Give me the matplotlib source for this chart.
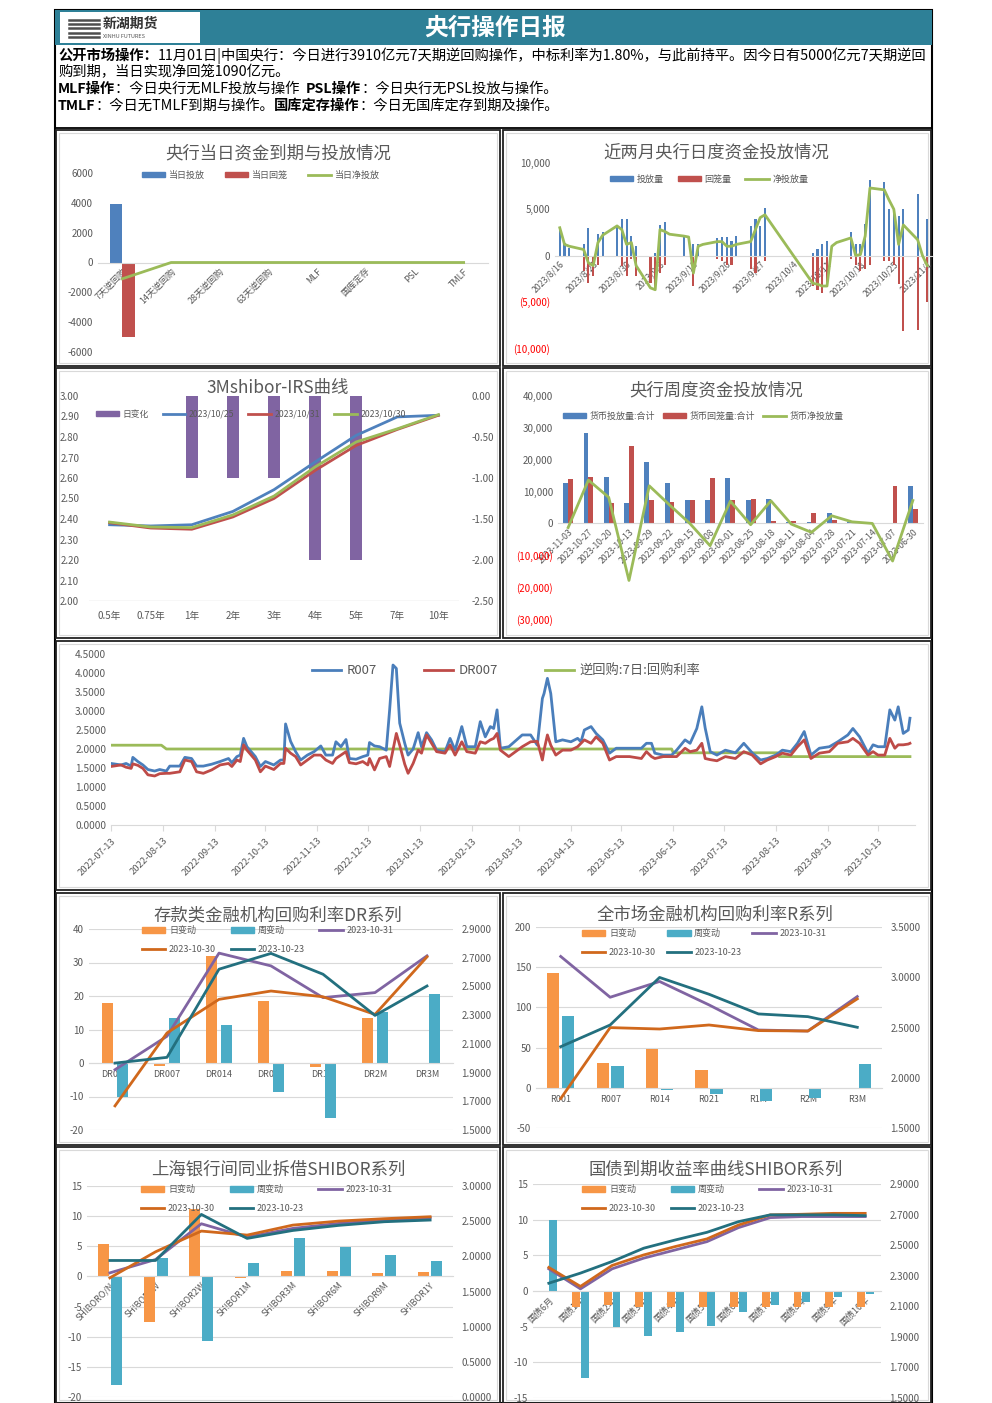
import matplotlib
matplotlib.use('Agg')
import matplotlib.pyplot as plt
from matplotlib.patches import Rectangle, Patch
from matplotlib.lines import Line2D
import numpy as np
import pandas as pd

plt.rcParams['font.family'] = ['Noto Sans CJK SC', 'DejaVu Sans']
plt.rcParams['axes.unicode_minus'] = False

W, H = 992, 1403
BLUE = '#4f81bd'
RED = '#c0504d'
GREEN = '#9bbb59'
PURPLE = '#8064a2'
ORANGE = '#f79646'
TEAL = '#4bacc6'
DKORANGE = '#d0681c'
DKTEAL = '#23707f'
GRAY = '#595959'
GRID = '#d9d9d9'

# ---------------- header text ----------------
header_lines = [
    [('公开市场操作：', True), ('11月01日|中国央行：今日进行3910亿元7天期逆回购操作，中标利率为1.80%，与此前持平。因今日有5000亿元7天期逆回', False)],
    [('购到期，当日实现净回笼1090亿元。', False)],
    [('MLF操作', True), ('：今日央行无MLF投放与操作  ', False), ('PSL操作', True), ('：今日央行无PSL投放与操作。', False)],
    [('TMLF', True), ('：今日无TMLF到期与操作。', False), ('国库定存操作', True), ('：今日无国库定存到期及操作。', False)],
]

# ---------------- panel 1 ----------------
cats1 = ['7天逆回购', '14天逆回购', '28天逆回购', '63天逆回购', 'MLF', '国库定存', 'PSL', 'TMLF']
put1 = [3910, 0, 0, 0, 0, 0, 0, 0]
ret1 = [-5000, 0, 0, 0, 0, 0, 0, 0]
net1 = [-1090, 0, 0, 0, 0, 0, 0, 0]

# ---------------- panel 2 ----------------
dates2 = ['2023-08-16', '2023-08-17', '2023-08-18', '2023-08-21', '2023-08-22', '2023-08-23',
          '2023-08-24', '2023-08-25', '2023-08-28', '2023-08-29', '2023-08-30', '2023-08-31',
          '2023-09-01', '2023-09-04', '2023-09-05', '2023-09-06', '2023-09-07', '2023-09-08',
          '2023-09-11', '2023-09-12', '2023-09-13', '2023-09-14', '2023-09-15', '2023-09-18',
          '2023-09-19', '2023-09-20', '2023-09-21', '2023-09-22', '2023-09-25', '2023-09-26',
          '2023-09-27', '2023-09-28', '2023-10-08', '2023-10-09', '2023-10-10', '2023-10-11',
          '2023-10-12', '2023-10-13', '2023-10-16', '2023-10-17', '2023-10-18', '2023-10-19',
          '2023-10-20', '2023-10-23', '2023-10-24', '2023-10-25', '2023-10-26', '2023-10-27',
          '2023-10-30', '2023-10-31', '2023-11-01']
put2 = [3000, 1400, 800, 1200, 3000, 0, 2300, 2500, 3200, 3900, 3900, 2100,
        1000, 0, 300, 3300, 3600, 0, 2100, 0, 1200, 1200, 0, 1900,
        2000, 2000, 1600, 2100, 3200, 3900, 3200, 5100, 300, 650, 1200, 1600,
        0, 0, 2500, 1200, 1200, 3400, 8200, 8000, 5000, 4900, 4300, 5000,
        6600, 0, 3910]
ret2 = [0, 0, 0, -1700, -3000, -2200, -1000, 0, 0, -1100, -2200, -400,
        -2200, -3000, -3700, -1900, -1000, 0, 0, 0, -3300, 0, 0, -400,
        -600, -1000, -1000, 0, -1500, -1900, 0, -600, -3300, -3700, -4000, -3300,
        0, 0, -350, -1000, -1700, -1500, -1000, -600, -600, -1000, -3100, -8200,
        -8000, 0, -5000]
net2 = [3000, 1200, 1000, 650, -800, -1100, 1400, 2200, 3200, 2800, 1200, 1400,
        -1100, -3500, -3700, 2800, 2600, 2300, 2100, 2000, -1900, 1000, 1200, 1500,
        1500, 1000, 1000, 1200, 1500, 2800, 4100, 4400, -3000, -3100, -3300, -3300,
        1000, 1400, 1900, 0, 100, 2100, 7300, 7100, 6000, 5000, 1200, 3300,
        1700, 0, -1090]
yt2 = [-10000, -5000, 0, 5000, 10000]
ytl2 = ['(10,000)', '(5,000)', '0', '5,000', '10,000']

# ---------------- panel 3 ----------------
tenors3 = ['0.5年', '0.75年', '1年', '2年', '3年', '4年', '5年', '7年', '10年']
chg3 = [0, 0, -1.0, -1.0, -1.0, -2.0, -2.0, 0, 0]
irs_1025 = [2.372, 2.366, 2.372, 2.437, 2.543, 2.678, 2.808, 2.898, 2.906]
irs_1031 = [2.382, 2.356, 2.350, 2.410, 2.500, 2.637, 2.759, 2.837, 2.906]
irs_1030 = [2.385, 2.361, 2.358, 2.420, 2.512, 2.654, 2.776, 2.840, 2.909]

# ---------------- panel 4 ----------------
weeks4 = ['2023-11-03', '2023-10-27', '2023-10-20', '2023-10-13', '2023-09-29', '2023-09-22',
          '2023-09-15', '2023-09-08', '2023-09-01', '2023-08-25', '2023-08-18', '2023-08-11',
          '2023-08-04', '2023-07-28', '2023-07-21', '2023-07-14', '2023-07-07', '2023-06-30']
put4 = [12600, 28300, 14700, 6500, 19200, 12600, 7400, 7400, 14400, 7400, 7800, 500,
        600, 3400, 500, 0, 0, 11800]
ret4 = [13900, 14700, 6500, 24400, 7400, 6800, 7400, 14400, 7400, 7800, 700, 700,
        3400, 1000, 0, 0, 11800, 4600]
net4 = [-1300, 13600, 8200, -17900, 11800, 5800, 0, -7000, 7000, -400, 7100, -200,
        -2800, 2400, 500, 0, -11800, 7200]
yt4 = [-30000, -20000, -10000, 0, 10000, 20000, 30000, 40000]
ytl4 = ['(30,000)', '(20,000)', '(10,000)', '0', '10,000', '20,000', '30,000', '40,000']

# ---------------- panel 5 ----------------
dates5 = ['2022-07-13', '2022-07-19', '2022-07-22', '2022-07-25', '2022-07-26', '2022-07-29',
          '2022-08-01', '2022-08-04', '2022-08-08', '2022-08-11', '2022-08-15', '2022-08-17',
          '2022-08-23', '2022-08-26', '2022-08-30', '2022-09-02', '2022-09-06', '2022-09-11',
          '2022-09-16', '2022-09-21', '2022-09-23', '2022-09-26', '2022-09-28', '2022-09-30',
          '2022-10-02', '2022-10-07', '2022-10-10', '2022-10-13', '2022-10-18', '2022-10-22',
          '2022-10-24', '2022-10-25', '2022-10-28', '2022-10-31', '2022-11-03', '2022-11-07',
          '2022-11-11', '2022-11-15', '2022-11-18', '2022-11-22', '2022-11-24', '2022-11-27',
          '2022-11-30', '2022-12-02', '2022-12-06', '2022-12-10', '2022-12-13', '2022-12-14',
          '2022-12-17', '2022-12-20', '2022-12-24', '2022-12-26', '2022-12-28', '2022-12-30',
          '2023-01-01', '2023-01-04', '2023-01-06', '2023-01-09', '2023-01-12', '2023-01-14',
          '2023-01-17', '2023-01-20', '2023-01-23', '2023-01-28', '2023-01-31', '2023-02-03',
          '2023-02-07', '2023-02-10', '2023-02-15', '2023-02-18', '2023-02-21', '2023-02-24',
          '2023-02-26', '2023-02-28', '2023-03-02', '2023-03-07', '2023-03-15', '2023-03-20',
          '2023-03-24', '2023-03-27', '2023-03-28', '2023-03-30', '2023-04-01', '2023-04-04',
          '2023-04-08', '2023-04-13', '2023-04-17', '2023-04-19', '2023-04-21', '2023-04-25',
          '2023-04-28', '2023-05-02', '2023-05-06', '2023-05-10', '2023-05-18', '2023-05-25',
          '2023-05-28', '2023-05-31', '2023-06-02', '2023-06-07', '2023-06-12', '2023-06-15',
          '2023-06-20', '2023-06-23', '2023-06-27', '2023-06-30', '2023-07-02', '2023-07-05',
          '2023-07-09', '2023-07-14', '2023-07-20', '2023-07-25', '2023-07-30', '2023-08-04',
          '2023-08-08', '2023-08-13', '2023-08-17', '2023-08-22', '2023-08-26', '2023-08-30',
          '2023-09-03', '2023-09-08', '2023-09-14', '2023-09-19', '2023-09-25', '2023-09-28',
          '2023-10-02', '2023-10-07', '2023-10-10', '2023-10-13', '2023-10-17', '2023-10-20',
          '2023-10-23', '2023-10-25', '2023-10-28', '2023-10-31', '2023-11-01']
r007 = [1.62, 1.58, 1.62, 1.55, 1.78, 1.67, 1.58, 1.46, 1.42, 1.46, 1.42, 1.55,
        1.55, 1.78, 1.75, 1.55, 1.55, 1.60, 1.67, 1.75, 1.64, 1.80, 1.84, 2.28,
        2.06, 1.80, 1.54, 1.67, 1.58, 1.71, 1.71, 2.66, 2.20, 1.93, 1.71, 1.84,
        1.93, 2.08, 1.84, 1.84, 2.19, 2.06, 2.25, 1.75, 1.73, 1.80, 1.84, 2.17,
        2.08, 2.06, 1.97, 3.03, 4.21, 4.12, 2.68, 2.15, 1.84, 2.00, 2.43, 2.06,
        2.43, 2.24, 1.97, 1.93, 2.28, 1.97, 2.59, 2.06, 2.06, 2.72, 2.32, 2.59,
        2.54, 3.03, 2.02, 2.06, 2.37, 2.37, 2.10, 3.33, 3.46, 3.86, 3.46, 2.19,
        2.24, 2.19, 2.28, 2.19, 2.50, 2.59, 2.41, 2.24, 1.89, 2.02, 2.02, 2.02,
        2.15, 2.15, 1.89, 1.84, 1.84, 1.97, 2.24, 2.15, 2.54, 3.11, 2.55, 1.93,
        1.84, 1.97, 1.90, 2.15, 1.90, 1.71, 1.75, 1.84, 1.97, 1.93, 2.15, 2.46,
        1.84, 2.02, 2.06, 2.19, 2.37, 2.54, 2.32, 1.89, 2.11, 2.06, 2.06, 3.03,
        2.76, 3.11, 2.41, 2.50, 2.81]
dr007 = [1.54, 1.58, 1.52, 1.49, 1.61, 1.57, 1.49, 1.32, 1.29, 1.35, 1.36, 1.36,
         1.40, 1.71, 1.67, 1.40, 1.36, 1.45, 1.58, 1.62, 1.54, 1.71, 1.67, 2.11,
         1.97, 1.71, 1.40, 1.55, 1.46, 1.62, 1.62, 2.02, 1.89, 1.80, 1.58, 1.71,
         1.84, 1.84, 1.71, 1.62, 1.75, 1.84, 1.93, 1.64, 1.61, 1.67, 1.58, 1.75,
         1.45, 1.75, 1.80, 1.54, 1.97, 2.41, 2.10, 1.60, 1.36, 1.62, 1.97, 1.89,
         2.37, 2.15, 1.93, 1.89, 2.11, 1.84, 2.19, 1.93, 1.89, 2.19, 2.15, 2.24,
         2.28, 2.41, 1.97, 1.80, 2.06, 2.19, 2.20, 1.71, 1.97, 2.37, 2.10, 1.84,
         1.97, 1.97, 2.06, 2.15, 2.24, 2.15, 2.32, 2.15, 1.71, 1.80, 1.80, 1.75,
         1.93, 1.80, 1.75, 1.80, 1.80, 1.80, 2.02, 1.93, 1.97, 2.15, 1.75, 1.72,
         1.69, 1.80, 1.75, 1.93, 1.84, 1.61, 1.71, 1.80, 1.89, 1.84, 2.06, 2.24,
         1.75, 1.89, 1.93, 2.15, 2.19, 2.28, 2.15, 1.84, 1.93, 1.84, 1.84, 2.28,
         2.02, 2.11, 2.11, 2.13, 2.15]
omo_dates = ['2022-07-13', '2022-08-12', '2022-08-15', '2023-06-12', '2023-06-13',
             '2023-08-14', '2023-08-15', '2023-11-01']
omo_rate = [2.10, 2.10, 2.00, 2.00, 1.90, 1.90, 1.80, 1.80]

# ---------------- panel 6: DR ----------------
cats6 = ['DR001', 'DR007', 'DR014', 'DR021', 'DR1M', 'DR2M', 'DR3M']
day6 = [18.0, -0.8, 32.0, 18.5, -1.1, 13.5, 0]
week6 = [-10.2, 13.5, 11.3, -8.6, -16.5, 15.3, 20.5]
dr_1031 = [1.920, 2.153, 2.732, 2.643, 2.422, 2.457, 2.713]
dr_1030 = [1.668, 2.176, 2.410, 2.468, 2.428, 2.305, 2.706]
dr_1023 = [1.966, 2.006, 2.620, 2.730, 2.585, 2.298, 2.503]

# ---------------- panel 7: R ----------------
cats7 = ['R001', 'R007', 'R014', 'R021', 'R1M', 'R2M', 'R3M']
day7 = [142.7, 31.2, 47.8, 22.0, 0, -1.7, 0]
week7 = [89.9, 27.0, -2.9, -7.1, -16.2, -13.3, 29.5]
r_1031 = [3.207, 2.801, 2.958, 2.725, 2.475, 2.465, 2.808]
r_1030 = [1.793, 2.499, 2.485, 2.525, 2.469, 2.465, 2.785]
r_1023 = [2.309, 2.525, 2.998, 2.831, 2.635, 2.608, 2.502]

# ---------------- panel 8: SHIBOR ----------------
cats8 = ['SHIBORO/N', 'SHIBOR1W', 'SHIBOR2W', 'SHIBOR1M', 'SHIBOR3M', 'SHIBOR6M', 'SHIBOR9M', 'SHIBOR1Y']
day8 = [5.35, -7.5, 11.25, -0.2, 0.94, 0.94, 0.5, 0.77]
week8 = [-17.97, 3.0, -10.7, 2.3, 6.45, 4.9, 3.5, 2.6]
sh_1031 = [1.765, 1.955, 2.463, 2.273, 2.397, 2.468, 2.511, 2.549]
sh_1030 = [1.694, 2.065, 2.359, 2.302, 2.444, 2.501, 2.535, 2.563]
sh_1023 = [1.941, 1.941, 2.596, 2.255, 2.368, 2.440, 2.492, 2.516]

# ---------------- panel 9: treasury ----------------
cats9 = ['国债6月', '国债1年', '国债2年', '国债3年', '国债4年', '国债5年', '国债6年',
         '国债7年', '国债8年', '国债9年', '国债10年']
day9 = [-0.19, -2.2, -2.0, -2.2, -2.2, -2.2, -2.2, -2.2, -2.2, -2.2, -2.2]
week9 = [9.95, -12.2, -5.1, -6.3, -5.8, -4.9, -2.9, -2.0, -1.5, -0.8, -0.4]
gz_1031 = [2.345, 2.214, 2.345, 2.415, 2.469, 2.523, 2.615, 2.680, 2.687, 2.687, 2.687]
gz_1030 = [2.354, 2.230, 2.367, 2.436, 2.491, 2.541, 2.632, 2.698, 2.702, 2.708, 2.708]
gz_1023 = [2.251, 2.317, 2.393, 2.480, 2.534, 2.584, 2.654, 2.698, 2.698, 2.698, 2.693]


fig = plt.figure(figsize=(W / 100, H / 100), dpi=100)


def fx(x):
    return x / W


def fy(y):
    return 1 - y / H


def add_ax(x0, y0, x1, y1):
    return fig.add_axes([fx(x0), fy(y1), (x1 - x0) / W, (y1 - y0) / H])


def box(x0, y0, x1, y1, ec='black', lw=1.2, fc='none', z=0):
    fig.add_artist(Rectangle((fx(x0), fy(y1)), (x1 - x0) / W, (y1 - y0) / H,
                             transform=fig.transFigure, fill=(fc != 'none'),
                             fc=fc, ec=ec, lw=lw, zorder=z))


def cell(x0, y0, x1, y1):
    box(x0, y0, x1, y1, ec='#222222', lw=1.3)
    box(x0 + 3, y0 + 3, x1 - 3, y1 - 3, ec=GRID, lw=0.8)


def title(x, y, s, size=12.5):
    fig.text(fx(x), fy(y), s, ha='center', va='center', fontsize=size, color=GRAY)


def clean(ax, size=7):
    for s in ax.spines.values():
        s.set_visible(False)
    ax.tick_params(length=0, labelsize=size, colors=GRAY)
    ax.patch.set_visible(False)


def legend(ax, handles, x, y, ncol, size=7, loc='center left', hl=2.6, cs=2.0, ls=0.9):
    order = handles
    if ncol < len(handles):
        rows = [handles[:ncol], handles[ncol:]]
        order = []
        for c in range(ncol):
            for r in rows:
                if c < len(r):
                    order.append(r[c])
    ax.legend(handles=order, loc=loc, bbox_to_anchor=(fx(x), fy(y)),
              bbox_transform=fig.transFigure, ncol=ncol, frameon=False,
              fontsize=size, handlelength=hl, handleheight=0.6, handletextpad=0.4,
              columnspacing=cs, borderpad=0, borderaxespad=0, labelspacing=ls,
              labelcolor=GRAY)


# ---------------- frame and header ----------------
box(55, 10, 932, 1403, ec='black', lw=1.5)
box(55, 10, 932, 128, ec='black', lw=1.3)
box(55, 10, 932, 45, ec='none', fc='#2e8097', z=1)
box(60, 12, 200, 43, ec='none', fc='white', z=2)
for i in range(5):
    yy = 20 + i * 4.2
    fig.add_artist(Line2D([fx(69), fx(99)], [fy(yy), fy(yy)], color='#4d4d4d',
                          lw=1.8, transform=fig.transFigure, zorder=3))
fig.text(fx(103), fy(24), '新湖期货', fontsize=10, fontweight='bold', color='#333333',
         va='center', zorder=3)
fig.text(fx(103), fy(37), 'XINHU FUTURES', fontsize=4, color='#555555', va='center', zorder=3)
fig.text(fx(495), fy(28), '央行操作日报', fontsize=17, fontweight='bold', color='white',
         ha='center', va='center', zorder=3)

renderer = fig.canvas.get_renderer()
for i, parts in enumerate(header_lines):
    xpos = 58
    ypos = 56 + i * 16.5
    for s, bold in parts:
        t = fig.text(fx(xpos), fy(ypos), s, fontsize=10.3, va='center', ha='left',
                     fontweight='bold' if bold else 'normal', color='black')
        xpos += t.get_window_extent(renderer=renderer).width

# ---------------- cells ----------------
cell(56, 130, 500, 366)
cell(503, 130, 931, 366)
cell(56, 368, 500, 638)
cell(503, 368, 931, 638)
cell(56, 641, 931, 890)
cell(56, 893, 500, 1145)
cell(503, 893, 931, 1145)
cell(56, 1147, 500, 1403)
cell(503, 1147, 931, 1403)

# ---------------- panel 1 ----------------
ax = add_ax(98, 173, 488, 352)
clean(ax)
x = np.arange(len(cats1))
ax.bar(x - 0.13, put1, 0.26, color=BLUE, zorder=2)
ax.bar(x + 0.13, ret1, 0.26, color=RED, zorder=2)
ax.plot(x, net1, color=GREEN, lw=2, zorder=3)
ax.set_xlim(-0.5, len(cats1) - 0.5)
ax.set_ylim(-6000, 6000)
ax.set_yticks(range(-6000, 6001, 2000))
ax.spines['bottom'].set_visible(True)
ax.spines['bottom'].set_position(('data', 0))
ax.spines['bottom'].set_color(GRID)
ax.set_xticks(x)
ax.set_xticklabels(cats1, rotation=45, ha='right', rotation_mode='anchor', fontsize=6.5)
ax.tick_params(axis='x', pad=3)
legend(ax, [Patch(color=BLUE, label='当日投放'), Patch(color=RED, label='当日回笼'),
            Line2D([], [], color=GREEN, lw=2, label='当日净投放')], 142, 175, 3, size=6.5, cs=2.2)
title(278, 153, '央行当日资金到期与投放情况')

# ---------------- panel 2 ----------------
ax = add_ax(555, 163, 932, 348)
clean(ax)
d2 = pd.to_datetime(dates2)
ax.bar(d2, put2, width=0.45, color=BLUE, zorder=2)
ax.bar(d2, ret2, width=0.45, color=RED, zorder=2)
ax.plot(d2, net2, color=GREEN, lw=2, zorder=3)
ax.set_xlim(pd.Timestamp('2023-08-15'), pd.Timestamp('2023-11-02'))
ax.set_ylim(-10000, 10000)
ax.set_yticks(yt2)
ax.set_yticklabels(ytl2)
for lbl, v in zip(ax.get_yticklabels(), yt2):
    if v < 0:
        lbl.set_color('red')
ax.spines['bottom'].set_visible(True)
ax.spines['bottom'].set_position(('data', 0))
ax.spines['bottom'].set_color(GRID)
wk = pd.date_range('2023-08-16', '2023-11-01', freq='7D')
ax.set_xticks(wk)
ax.set_xticklabels([f'{d.year}/{d.month}/{d.day}' for d in wk], rotation=45, ha='right',
                   rotation_mode='anchor', fontsize=6.3)
ax.tick_params(axis='x', pad=3)
legend(ax, [Patch(color=BLUE, label='投放量'), Patch(color=RED, label='回笼量'),
            Line2D([], [], color=GREEN, lw=2, label='净投放量')], 610, 179, 3, size=6.5, cs=1.5)
title(716, 152, '近两月央行日度资金投放情况')

# ---------------- panel 3 ----------------
ax = add_ax(89, 396, 459, 601)
clean(ax)
x = np.arange(len(tenors3))
ax.bar(x, chg3, 0.3, color=PURPLE, zorder=1)
ax.set_ylim(-2.5, 0)
ax.set_yticks(np.arange(-2.5, 0.01, 0.5))
ax.yaxis.set_major_formatter(matplotlib.ticker.FormatStrFormatter('%.2f'))
ax.set_xlim(-0.5, len(tenors3) - 0.5)
ax.set_xticks(x)
ax.set_xticklabels(tenors3, fontsize=7)
ax.tick_params(axis='x', pad=7)
ax2 = ax.twinx()
clean(ax2)
ax.yaxis.tick_right()
ax.tick_params(axis='y', length=0, pad=9, labelright=True, labelleft=False)
ax2.yaxis.tick_left()
ax2.tick_params(axis='y', length=0, pad=7, labelleft=True, labelright=False)
ax2.plot(x, irs_1025, color=BLUE, lw=2)
ax2.plot(x, irs_1031, color=RED, lw=2)
ax2.plot(x, irs_1030, color=GREEN, lw=2)
ax2.set_ylim(2.0, 3.0)
ax2.set_yticks(np.arange(2.0, 3.001, 0.1))
ax2.yaxis.set_major_formatter(matplotlib.ticker.FormatStrFormatter('%.2f'))
ax2.axhline(2.0, color=GRID, lw=1)
legend(ax2, [Patch(color=PURPLE, label='日变化'),
             Line2D([], [], color=BLUE, lw=2, label='2023/10/25'),
             Line2D([], [], color=RED, lw=2, label='2023/10/31'),
             Line2D([], [], color=GREEN, lw=2, label='2023/10/30')], 96, 414, 4, size=6.3, cs=1.6)
title(278, 388, '3Mshibor-IRS曲线')

# ---------------- panel 4 ----------------
ax = add_ax(558, 396, 923, 619)
clean(ax)
x = np.arange(len(weeks4))
ax.bar(x - 0.12, put4, 0.24, color=BLUE, zorder=2)
ax.bar(x + 0.12, ret4, 0.24, color=RED, zorder=2)
ax.plot(x, net4, color=GREEN, lw=2, zorder=3)
ax.set_xlim(-0.5, len(weeks4) - 0.5)
ax.set_ylim(-30000, 40000)
ax.set_yticks(yt4)
ax.set_yticklabels(ytl4)
for lbl, v in zip(ax.get_yticklabels(), yt4):
    if v < 0:
        lbl.set_color('red')
ax.spines['bottom'].set_visible(True)
ax.spines['bottom'].set_position(('data', 0))
ax.spines['bottom'].set_color(GRID)
ax.set_xticks(x)
ax.set_xticklabels(weeks4, rotation=45, ha='right', rotation_mode='anchor', fontsize=6.3)
ax.tick_params(axis='x', pad=3)
legend(ax, [Patch(color=BLUE, label='货币投放量:合计'), Patch(color=RED, label='货币回笼量:合计'),
            Line2D([], [], color=GREEN, lw=2, label='货币净投放量')], 563, 416, 3, size=6.5, cs=0.8)
title(716, 390, '央行周度资金投放情况')

# ---------------- panel 5 ----------------
ax = add_ax(111, 654, 915, 825)
clean(ax, 7.3)
d5 = pd.to_datetime(dates5)
ax.plot(d5, r007, color='#4a7ebb', lw=2, label='R007', zorder=3)
ax.plot(d5, dr007, color='#be4b48', lw=2, label='DR007', zorder=3)
ax.plot(pd.to_datetime(omo_dates), omo_rate, color=GREEN, lw=2, label='逆回购:7日:回购利率', zorder=2)
ax.set_xlim(pd.Timestamp('2022-07-13'), pd.Timestamp('2023-11-04'))
ax.set_ylim(0, 4.5)
ax.set_yticks(np.arange(0, 4.51, 0.5))
ax.yaxis.set_major_formatter(matplotlib.ticker.FormatStrFormatter('%.4f'))
ax.spines['bottom'].set_visible(True)
ax.spines['bottom'].set_color(GRID)
mon = pd.date_range('2022-07-13', '2023-10-13', freq=pd.DateOffset(months=1))
ax.set_xticks(mon)
ax.set_xticklabels([d.strftime('%Y-%m-%d') for d in mon], rotation=45, ha='right',
                   rotation_mode='anchor', fontsize=6.8)
ax.tick_params(axis='x', length=4, color=GRID, pad=4)
ax.legend(loc='center left', bbox_to_anchor=(fx(312), fy(671)), bbox_transform=fig.transFigure,
          ncol=3, frameon=False, fontsize=9.5, handlelength=2.2, handletextpad=0.4,
          columnspacing=3.6, borderpad=0, borderaxespad=0, labelcolor=GRAY)


# ---------------- combo panels ----------------
def combo(px, cats, day, week, l31, l30, l23, llim, lstep, rlim, rstep, off, bw,
          rot, lx, ly, cs, tpos, ttl, lfmt='%d'):
    ax = add_ax(*px)
    clean(ax)
    x = np.arange(len(cats))
    ax.bar(x - off, day, bw, color=ORANGE, zorder=2)
    ax.bar(x + off, week, bw, color=TEAL, zorder=2)
    ax.set_xlim(-0.5, len(cats) - 0.5)
    ax.set_ylim(*llim)
    ax.set_yticks(np.arange(llim[0], llim[1] + 0.001, lstep))
    ax.yaxis.set_major_formatter(matplotlib.ticker.FormatStrFormatter(lfmt))
    ax.yaxis.grid(True, color=GRID, lw=0.8)
    ax.set_axisbelow(True)
    ax.spines['bottom'].set_visible(True)
    ax.spines['bottom'].set_position(('data', 0))
    ax.spines['bottom'].set_color(GRID)
    ax.set_xticks(x)
    if rot:
        ax.set_xticklabels(cats, rotation=45, ha='right', rotation_mode='anchor', fontsize=6.5)
        ax.tick_params(axis='x', pad=3)
    else:
        ax.set_xticklabels(cats, fontsize=6.5)
        ax.tick_params(axis='x', pad=5)
    ax2 = ax.twinx()
    clean(ax2)
    ax2.plot(x, l31, color=PURPLE, lw=2)
    ax2.plot(x, l30, color=DKORANGE, lw=2)
    ax2.plot(x, l23, color=DKTEAL, lw=2)
    ax2.set_ylim(*rlim)
    ax2.set_yticks(np.arange(rlim[0], rlim[1] + 0.001, rstep))
    ax2.yaxis.set_major_formatter(matplotlib.ticker.FormatStrFormatter('%.4f'))
    ax2.tick_params(axis='y', pad=6)
    legend(ax2, [Patch(color=ORANGE, label='日变动'), Patch(color=TEAL, label='周变动'),
                 Line2D([], [], color=PURPLE, lw=2, label='2023-10-31'),
                 Line2D([], [], color=DKORANGE, lw=2, label='2023-10-30'),
                 Line2D([], [], color=DKTEAL, lw=2, label='2023-10-23')],
           lx, ly, 3, size=6.5, loc='upper left', cs=cs, ls=1.05)
    title(tpos[0], tpos[1], ttl)


combo((89, 929, 453, 1130), cats6, day6, week6, dr_1031, dr_1030, dr_1023,
      (-20, 40), 10, (1.5, 2.9), 0.2, 0.145, 0.21, False, 142, 926, 1.6,
      (278, 915), '存款类金融机构回购利率DR系列')
combo((536, 927, 882, 1128), cats7, day7, week7, r_1031, r_1030, r_1023,
      (-50, 200), 50, (1.5, 3.5), 0.5, 0.15, 0.25, False, 582, 929, 1.2,
      (715, 915), '全市场金融机构回购利率R系列')
combo((87, 1186, 453, 1397), cats8, day8, week8, sh_1031, sh_1030, sh_1023,
      (-20, 15), 5, (0.0, 3.0), 0.5, 0.14, 0.24, True, 141, 1185, 1.6,
      (278, 1170), '上海银行间同业拆借SHIBOR系列')
combo((533, 1184, 881, 1398), cats9, day9, week9, gz_1031, gz_1030, gz_1023,
      (-15, 15), 5, (1.5, 2.9), 0.2, 0.14, 0.25, True, 582, 1185, 1.6,
      (716, 1170), '国债到期收益率曲线SHIBOR系列')

fig.savefig('out.png', dpi=100, facecolor='white')
